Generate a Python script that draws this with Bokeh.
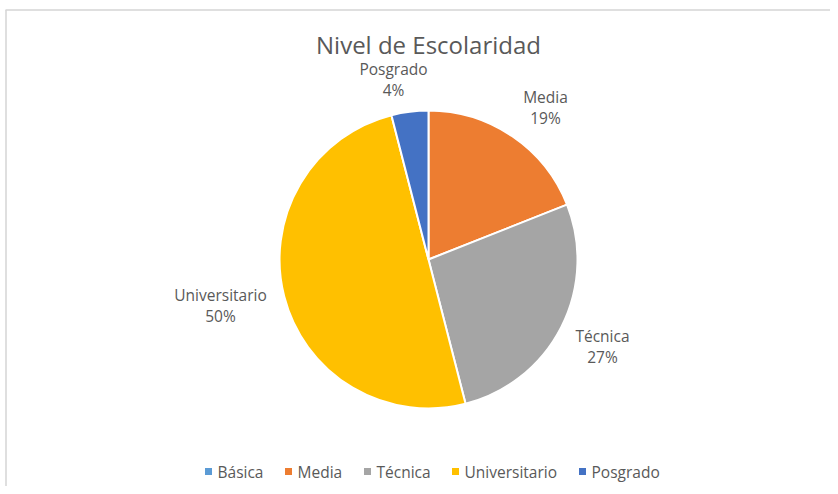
import math
from bokeh.plotting import figure
from bokeh.models import Range1d, ColumnDataSource
from bokeh.embed import file_html
from bokeh.resources import INLINE
from bokeh.core.properties import value

# ---- data ----
categories = ["Básica", "Media", "Técnica", "Universitario", "Posgrado"]
values = [0, 19, 27, 50, 4]
colors = ["#5B9BD5", "#ED7D31", "#A5A5A5", "#FFC000", "#4472C4"]
title_text = "Nivel de Escolaridad"

# ---- layout (pixel coordinates of the picture) ----
W, H = 830, 486
def sx(x):
    return x
def sy(y):
    return H - y

cx, cy, R = 428, 259, 149
label_pos = {"Media": (545, 96), "Técnica": (602, 335),
             "Universitario": (220, 294), "Posgrado": (393, 68)}
legend_marker_x = [208, 288, 367, 455, 582]
legend_y = 471
FONT = "Open Sans"
TXT = "#595959"

p = figure(width=W, height=H, output_backend="svg", toolbar_location=None,
           x_range=Range1d(0, W), y_range=Range1d(0, H), min_border=0,
           background_fill_color="white", border_fill_color="white")
p.axis.visible = False
p.grid.visible = False
p.outline_line_color = None

# frame lines (top and left)
p.segment(x0=[sx(5), sx(5.5)], y0=[sy(9.5), sy(9.5)], x1=[sx(W), sx(5.5)], y1=[sy(9.5), sy(H)],
          line_color="#d4d4d4", line_width=1.5)

total = float(sum(values))
starts, ends = [], []
cum = 0.0
for v in values:
    starts.append(math.pi / 2 - 2 * math.pi * cum / total)
    cum += v
    ends.append(math.pi / 2 - 2 * math.pi * cum / total)

src = ColumnDataSource(dict(cat=categories, val=values, color=colors,
                            start=starts, end=ends))
p.wedge(x=sx(cx), y=sy(cy), radius=R, start_angle="start", end_angle="end",
        direction="clock", fill_color="color", line_color="white", line_width=2,
        source=src)

# data labels
lx, ly1, ly2, ln, lp = [], [], [], [], []
for c, v in zip(categories, values):
    if v == 0:
        continue
    x, y = label_pos[c]
    lx.append(sx(x)); ly1.append(sy(y)); ly2.append(sy(y + 21))
    ln.append(c); lp.append(f"{round(100 * v / total)}%")
p.text(x=lx, y=ly1, text=ln, text_align="center", text_baseline="middle",
       text_font=value(FONT), text_font_size="15.5px", text_color=TXT)
p.text(x=lx, y=ly2, text=lp, text_align="center", text_baseline="middle",
       text_font=value(FONT), text_font_size="15.5px", text_color=TXT)

# title
p.text(x=[sx(428)], y=[sy(44)], text=[title_text], text_align="center",
       text_baseline="middle", text_font=value(FONT), text_font_size="24px",
       text_color=TXT)

# legend
p.scatter(x=[sx(v) for v in legend_marker_x], y=[sy(legend_y)] * len(categories),
          marker="square", size=7, fill_color=colors, line_color=None)
p.text(x=[sx(v + 9) for v in legend_marker_x], y=[sy(legend_y)] * len(categories),
       text=categories, text_align="left", text_baseline="middle",
       text_font=value(FONT), text_font_size="15.5px", text_color=TXT)

open("out.html", "w").write(file_html(p, INLINE))
